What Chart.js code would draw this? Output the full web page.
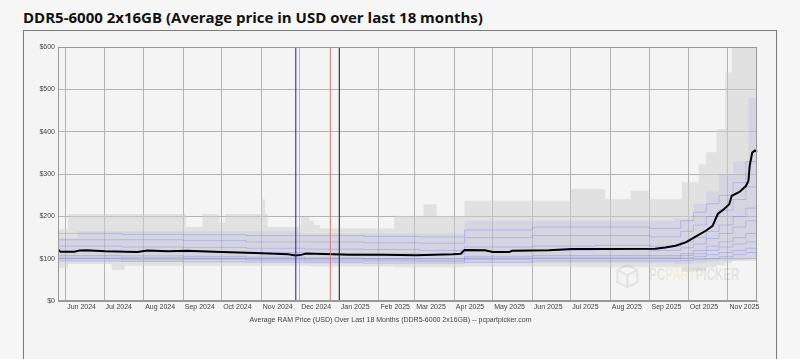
<!DOCTYPE html>
<html>
<head>
<meta charset="utf-8">
<script src="https://cdn.jsdelivr.net/npm/chart.js@4"></script>
<style>
  html, body { margin:0; padding:0; }
  body { width:800px; height:359px; overflow:hidden; background:#f6f6f6; position:relative; font-family:"Liberation Sans", Arial, sans-serif; }
  #title { position:absolute; left:23px; top:7px; font-family:"Open Sans", "Noto Sans", sans-serif; font-weight:700; font-size:15px; color:#111; white-space:nowrap; }
  #card { position:absolute; left:23px; top:30px; width:752px; height:340px; border:1px solid #7a7a7a; border-bottom:none; background:#f4f4f4; }
  #wrap { position:absolute; left:23px; top:40px; width:737px; height:286px; }
</style>
</head>
<body>
<div id="title">DDR5-6000 2x16GB (Average price in USD over last 18 months)</div>
<div id="card"></div>
<div id="wrap"><canvas id="c"></canvas></div>
<script>
// ---- data ----
const startDate = '2024-05-26';
const endDate = '2025-11-24';

const avgDates = ['2024-05-26','2024-05-28','2024-06-08','2024-06-12','2024-06-17','2024-07-02','2024-07-27','2024-08-04','2024-08-20','2024-09-04','2024-10-01','2024-10-27','2024-11-22','2024-11-28','2024-12-03','2024-12-06','2024-12-27','2025-01-09','2025-02-04','2025-03-02','2025-03-31','2025-04-06','2025-04-09','2025-04-25','2025-05-01','2025-05-14','2025-05-16','2025-06-14','2025-07-02','2025-07-28','2025-09-05','2025-09-13','2025-09-21','2025-09-29','2025-10-07','2025-10-15','2025-10-20','2025-10-24','2025-10-29','2025-11-02','2025-11-04','2025-11-10','2025-11-15','2025-11-17','2025-11-18','2025-11-20','2025-11-22','2025-11-24'];
const avgPrice = [122,117,117,120,120.5,118,116.5,120,118,119,116.5,114,111,108,110,112.5,111,109.5,109.5,108.7,111,112,121,120.5,116,116,119,120.5,123.5,123.5,124,127,131,139,153,167,178,206,218,229,249,258,272,284,320,351,356,352];

const rangeDates = ['2024-05-26','2024-06-03','2024-07-07','2024-07-17','2024-09-03','2024-09-16','2024-09-29','2024-10-04','2024-11-01','2024-11-04','2024-11-06','2024-12-02','2024-12-08','2024-12-12','2024-12-17','2025-02-13','2025-03-08','2025-03-18','2025-04-09','2025-07-01','2025-07-28','2025-08-17','2025-08-31','2025-09-26','2025-10-09','2025-10-15','2025-10-23','2025-10-30','2025-11-04','2025-11-24'];
const rangeHigh = [170,206,206,206,175,206,186,206,240,206,175,199,190,180,172,202,229,202,237,265,241,261,241,281,323,352,406,540,600,600];
const rangeLow  = [78,88,74,84,84,84,84,84,84,84,84,84,82,82,82,80,80,80,82,80,80,80,80,70,72,80,85,90,95,95];

const blueDates = ['2024-05-26','2024-06-10','2024-12-01','2025-04-09','2025-09-20','2025-10-05','2025-10-15','2025-10-25','2025-11-05','2025-11-17','2025-11-24'];
const blueHigh = [150,165,160,190,195,230,260,300,330,480,480];
const blueLow  = [95,93,92,90,88,90,92,95,98,100,100];

const lineDates = ['2024-05-26','2024-07-15','2024-09-01','2024-10-20','2024-12-05','2025-01-20','2025-03-05','2025-04-09','2025-06-01','2025-07-20','2025-09-01','2025-09-25','2025-10-05','2025-10-15','2025-10-25','2025-11-05','2025-11-15','2025-11-24'];
const listing1 = [95,94,93,92,91,90,90,92,95,95,95,96,98,100,105,110,115,115];
const listing2 = [100,98,99,97,95,95,94,98,100,100,100,102,105,110,115,120,125,125];
const listing3 = [104,103,102,100,99,98,97,102,104,104,104,108,112,120,128,135,140,140];
const listing4 = [108,107,106,104,102,101,100,106,108,108,108,112,120,130,140,150,160,160];
const listing5 = [118,117,116,115,113,112,111,118,120,122,120,126,135,148,160,175,190,190];
const listing6 = [130,128,127,125,123,122,120,128,130,132,130,140,150,165,180,200,220,220];
const listing7 = [145,145,143,140,140,138,137,150,155,155,152,165,180,200,215,240,270,270];
const listing8 = [160,158,157,155,155,153,152,168,175,175,172,190,210,230,250,280,330,330];

const markerDates = ['2024-11-28','2024-12-25','2025-01-01'];
const markerColors = ['#1f1f9c','#e27474','#222222'];

const monthStarts = ['2024-06-01','2024-07-01','2024-08-01','2024-09-01','2024-10-01','2024-11-01','2024-12-01','2025-01-01','2025-02-01','2025-03-01','2025-04-01','2025-05-01','2025-06-01','2025-07-01','2025-08-01','2025-09-01','2025-10-01','2025-11-01'];
const monthLabels = ['Jun 2024','Jul 2024','Aug 2024','Sep 2024','Oct 2024','Nov 2024','Dec 2024','Jan 2025','Feb 2025','Mar 2025','Apr 2025','May 2025','Jun 2025','Jul 2025','Aug 2025','Sep 2025','Oct 2025','Nov 2025'];
const yTicks = [0,100,200,300,400,500,600];

// ---- helpers ----
const dayOf = s => { const [y,m,d] = s.split('-').map(Number); return (Date.UTC(y,m-1,d) - Date.UTC(2024,4,26)) / 86400000; };
const pts = (ds, vs) => ds.map((d,i) => ({x: dayOf(d), y: vs[i]}));

const listings = [listing1, listing2, listing3, listing4, listing5, listing6, listing7, listing8];

const datasets = [];
// 0,1 grey range band
datasets.push({ data: pts(rangeDates, rangeLow), stepped: true, borderWidth: 0, pointRadius: 0, fill: false, order: 10 });
datasets.push({ data: pts(rangeDates, rangeHigh), stepped: true, borderWidth: 0, pointRadius: 0, fill: { target: 0 }, backgroundColor: 'rgba(205,205,205,0.5)', order: 9 });
// 2,3 blue band
datasets.push({ data: pts(blueDates, blueLow), stepped: true, borderWidth: 0, pointRadius: 0, fill: false, order: 8 });
datasets.push({ data: pts(blueDates, blueHigh), stepped: true, borderWidth: 0, pointRadius: 0, fill: { target: 2 }, backgroundColor: 'rgba(150,150,240,0.14)', order: 7 });
// listings
listings.forEach(arr => datasets.push({ data: pts(lineDates, arr), stepped: true, borderWidth: 1, borderColor: 'rgba(95,95,230,0.28)', pointRadius: 0, fill: false, order: 5 }));
// average
datasets.push({ data: pts(avgDates, avgPrice), borderColor: '#000', borderWidth: 2, pointRadius: 0, fill: false, tension: 0, order: 2 });
// markers
markerDates.forEach((d,i) => datasets.push({ data: [{x: dayOf(d), y: yTicks[0]}, {x: dayOf(d), y: yTicks[yTicks.length-1]}], borderColor: markerColors[i], borderWidth: 1, pointRadius: 0, fill: false, order: 1 }));

const frame = {
  id: 'frame',
  afterDraw(chart) {
    const {ctx, chartArea: a} = chart;
    ctx.save();
    // watermark, squeezed to ~90px wide
    ctx.font = 'bold 16px "Liberation Sans Narrow", "Liberation Sans", Arial, sans-serif';
    ctx.textBaseline = 'middle';
    const full = ctx.measureText('PCPARTPICKER').width;
    const sx = 90 / full;
    const wx = a.right - 108, wy = a.bottom - 26;
    ctx.save();
    ctx.translate(wx, wy);
    ctx.scale(sx, 1);
    ctx.fillStyle = 'rgba(0,0,0,0.07)';
    ctx.fillText('PC', 0, 0);
    let w = ctx.measureText('PC').width;
    ctx.fillStyle = 'rgba(215,190,40,0.13)';
    ctx.fillText('PART', w, 0);
    w += ctx.measureText('PART').width;
    ctx.fillStyle = 'rgba(0,0,0,0.07)';
    ctx.fillText('PICKER', w, 0);
    ctx.restore();
    // cube icon
    const cx = wx - 22, cy = wy;
    ctx.strokeStyle = 'rgba(0,0,0,0.07)'; ctx.lineWidth = 2;
    ctx.beginPath();
    ctx.moveTo(cx-10, cy-5); ctx.lineTo(cx, cy-10); ctx.lineTo(cx+10, cy-5); ctx.lineTo(cx+10, cy+7); ctx.lineTo(cx, cy+12); ctx.lineTo(cx-10, cy+7); ctx.closePath();
    ctx.moveTo(cx-10, cy-5); ctx.lineTo(cx, cy); ctx.lineTo(cx+10, cy-5); ctx.moveTo(cx, cy); ctx.lineTo(cx, cy+12);
    ctx.stroke();
    // plot border
    ctx.strokeStyle = '#9a9a9a'; ctx.lineWidth = 1;
    ctx.strokeRect(Math.round(a.left)+0.5, Math.round(a.top)+0.5, Math.round(a.right-a.left)-1, Math.round(a.bottom-a.top)-1);
    ctx.restore();
  }
};

new Chart(document.getElementById('c'), {
  type: 'line',
  data: { datasets },
  options: {
    responsive: true,
    maintainAspectRatio: false,
    animation: false,
    events: [],
    layout: { padding: { top: 7, right: 2, bottom: 0, left: 0 } },
    plugins: {
      legend: { display: false },
      tooltip: { enabled: false },
      title: {
        display: true, position: 'bottom',
        text: 'Average RAM Price (USD) Over Last 18 Months (DDR5-6000 2x16GB) -- pcpartpicker.com',
        color: '#444', font: { family: '"Liberation Sans", Arial, sans-serif', size: 7, weight: 'normal' },
        padding: { top: 2, bottom: 2 }
      }
    },
    scales: {
      x: {
        type: 'linear',
        min: dayOf(startDate), max: dayOf(endDate),
        afterBuildTicks: s => { s.ticks = monthStarts.map(d => ({ value: dayOf(d) })); },
        ticks: {
          autoSkip: false, maxRotation: 0, minRotation: 0, align: 'start', labelOffset: 1.5, padding: 2,
          color: '#444', font: { family: '"Liberation Sans", Arial, sans-serif', size: 7 },
          callback: (v, i) => monthLabels[i]
        },
        grid: { color: '#b4b4b4', lineWidth: 1, drawTicks: false },
        border: { color: '#9a9a9a' }
      },
      y: {
        min: yTicks[0], max: yTicks[yTicks.length-1],
        afterBuildTicks: s => { s.ticks = yTicks.map(v => ({ value: v })); },
        afterFit: s => { s.width = 35; },
        ticks: {
          padding: 3, color: '#444', font: { family: '"Liberation Sans", Arial, sans-serif', size: 7 },
          callback: v => '$' + v
        },
        grid: { color: '#b4b4b4', lineWidth: 1, drawTicks: false },
        border: { color: '#9a9a9a' }
      }
    }
  },
  plugins: [frame]
});
</script>
</body>
</html>
